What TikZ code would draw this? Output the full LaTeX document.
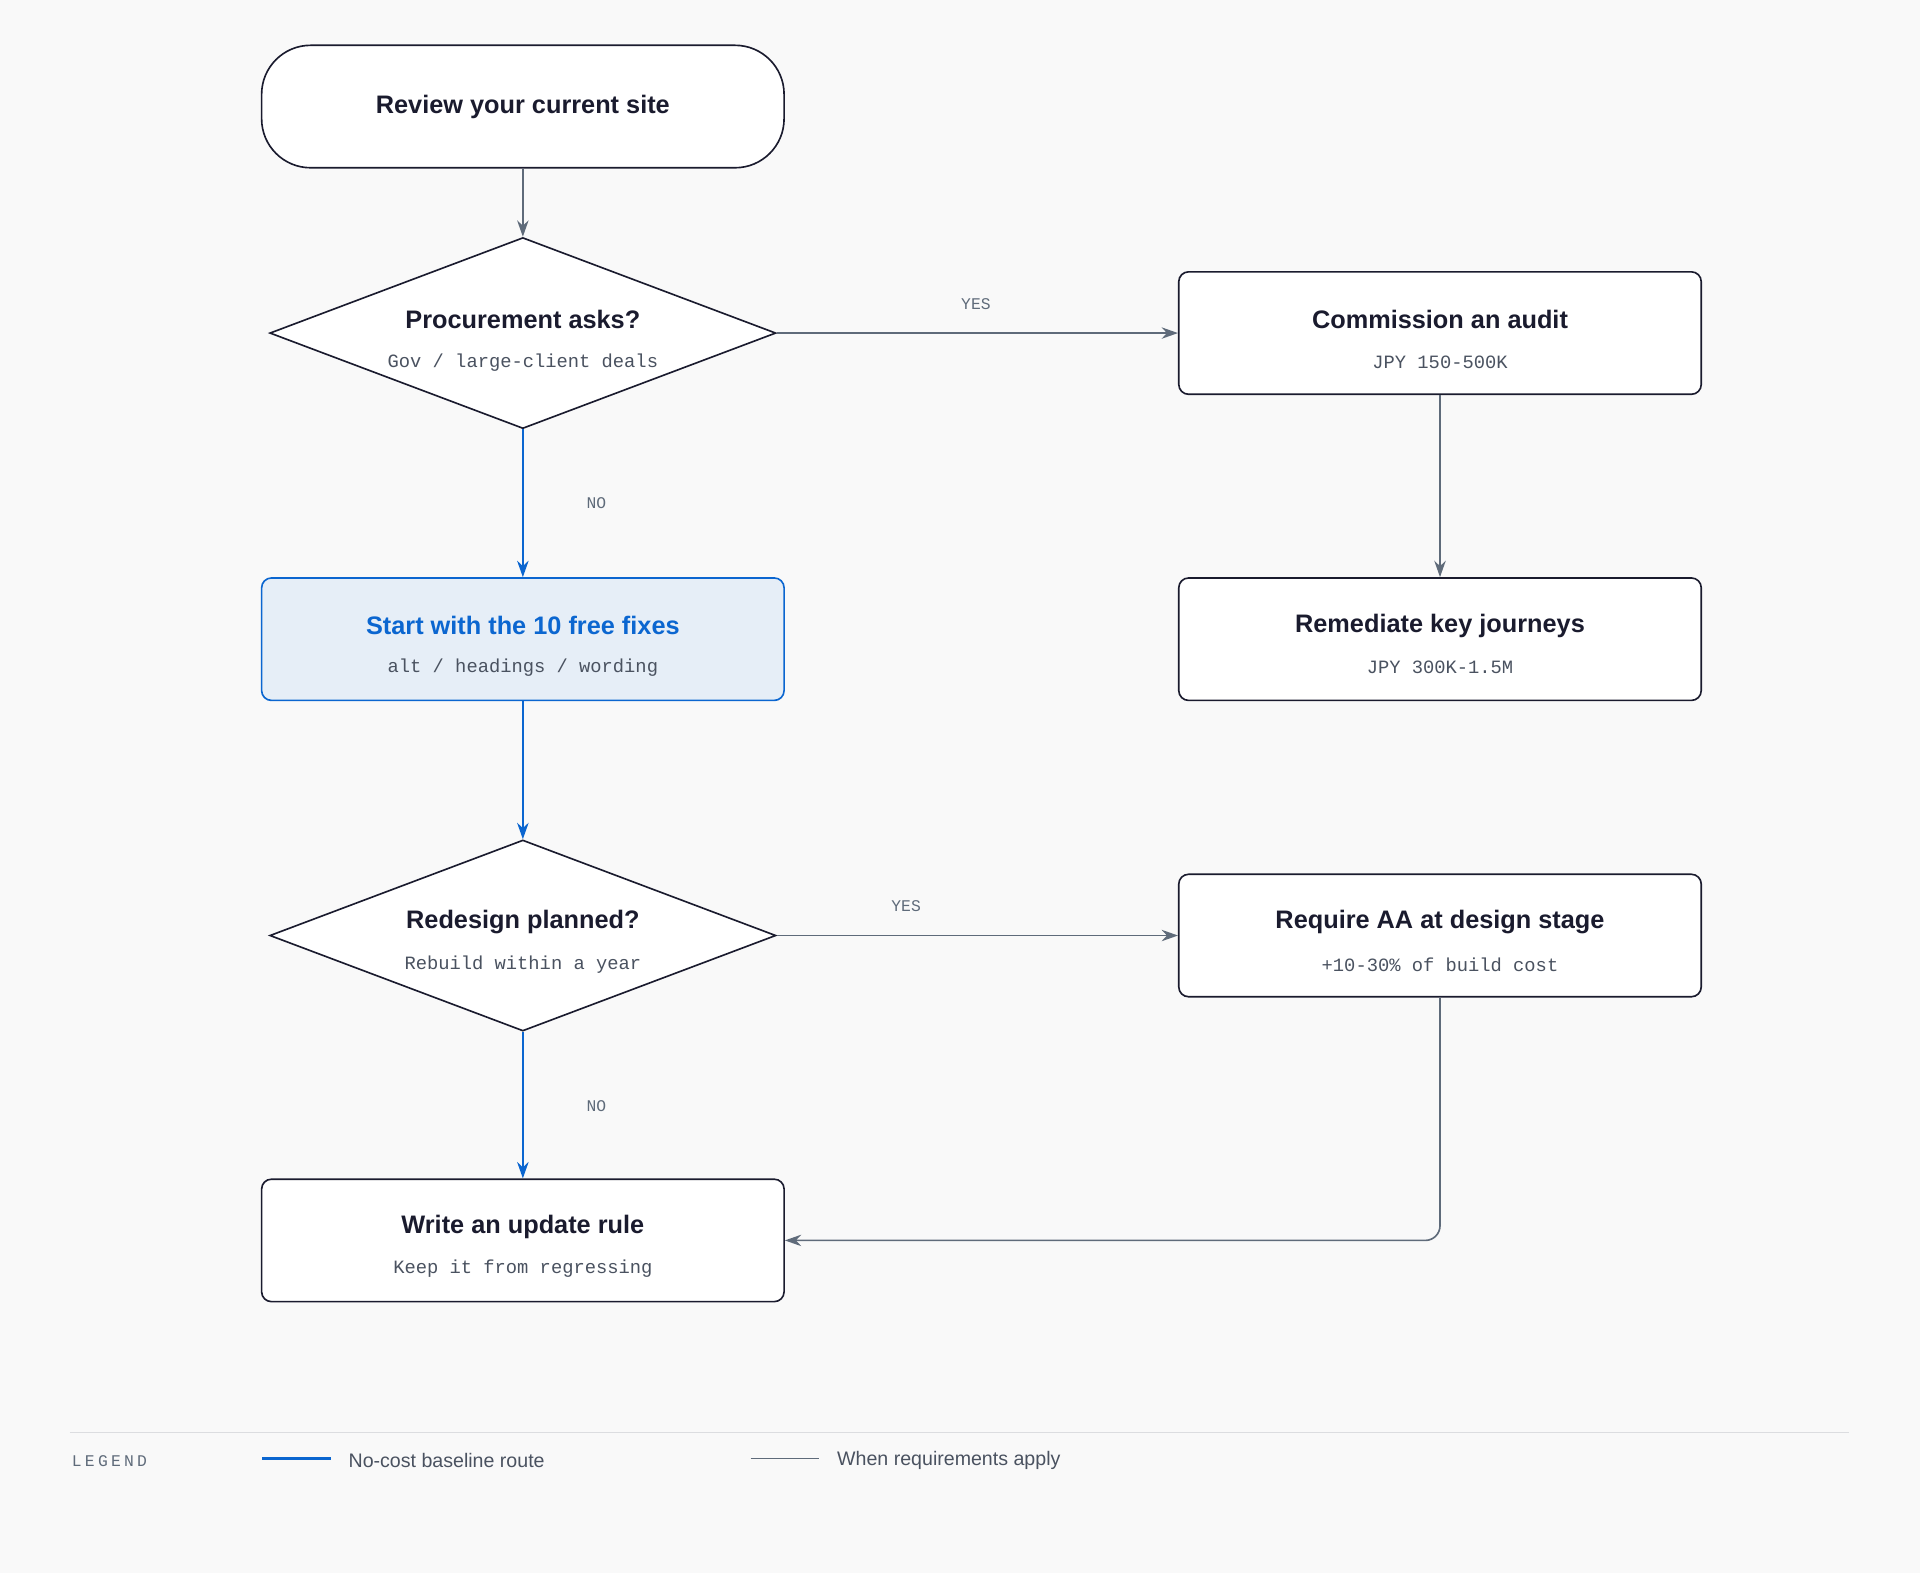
\documentclass[tikz,border=0pt]{standalone}
\usepackage{fontspec}
\setmainfont{Liberation Sans}
\setmonofont{Liberation Mono}
\usetikzlibrary{arrows.meta,shapes.geometric}
\definecolor{ink}{HTML}{1A1B2E}
\definecolor{slate}{HTML}{5F6B7A}
\definecolor{route}{HTML}{0B66D0}
\definecolor{paleblue}{HTML}{E6EEF7}
\definecolor{bg}{HTML}{F9F9F9}
\definecolor{rule}{HTML}{DCDDE0}
\definecolor{subtext}{HTML}{4A5260}
\tikzset{
arrowMe/.style={-{Stealth[length=10pt,width=7pt]}, line width=1pt},
}

\begin{document}
\begin{tikzpicture}[x=0.75pt,y=-0.75pt]
		\tikzset{box/.style = {draw=ink, line width=1pt, fill=white, rounded corners=6pt, minimum width=320pt, minimum height=75pt}}
		\tikzset{choice/.style = {draw=ink, line width=1pt, fill=white, diamond, minimum width=310pt, minimum height=117pt, inner sep=0pt}}
		\tikzset{title/.style = {font=\bfseries\fontsize{15.5}{18}\selectfont, text=ink}}
		\tikzset{sub/.style = {font=\ttfamily\fontsize{11.5}{14}\selectfont, text=subtext}}
		\tikzset{tag/.style = {font=\ttfamily\fontsize{10}{12}\selectfont, text=slate}}
		\tikzset{edge/.style = {arrowMe, draw=slate}}
		\tikzset{path/.style = {arrowMe, draw=route, line width=1.5pt}}

		\fill[bg] (0,0) rectangle (1568,1285);
		\useasboundingbox (0,0) rectangle (1568,1285);

		\node[box, rounded corners=30pt] (R) at (427,87) {};
		\node[title] (R_t) at (427,87) {Review your current site};

		\node[choice] (P) at (427,272) {};
		\node[title] (P_t) at (427,261) {Procurement asks?};
		\node[sub] (P_s) at (427,296) {Gov / large-client deals};

		\node[box] (A) at (1176,272) {};
		\node[title] (A_t) at (1176,261) {Commission an audit};
		\node[sub] (A_s) at (1176,296) {JPY 150-500K};

		\node[box] (J) at (1176,522) {};
		\node[title] (J_t) at (1176,511) {Remediate key journeys};
		\node[sub] (J_s) at (1176,545) {JPY 300K-1.5M};

		\node[box, fill=paleblue, draw=route] (F) at (427,522) {};
		\node[title, text=route] (F_t) at (427,511) {Start with the 10 free fixes};
		\node[sub] (F_s) at (427,545) {alt / headings / wording};

		\node[choice] (D) at (427,764) {};
		\node[title] (D_t) at (427,753) {Redesign planned?};
		\node[sub] (D_s) at (427,788) {Rebuild within a year};

		\node[box] (S) at (1176,764) {};
		\node[title] (S_t) at (1176,753) {Require AA at design stage};
		\node[sub] (S_s) at (1176,788) {+10-30\% of build cost};

		\node[box] (U) at (427,1013) {};
		\node[title] (U_t) at (427,1002) {Write an update rule};
		\node[sub] (U_s) at (427,1036) {Keep it from regressing};

		\draw[edge] (R) to (P);
		\draw[edge] (P) to (A);
		\draw[edge] (A) to (J);
		\draw[path] (P) to (F);
		\draw[path] (F) to (D);
		\draw[edge] (D) to (S);
		\draw[path] (D) to (U);
		\draw[edge, rounded corners=9pt] (S) |- (U);

		\node[tag] (y1) at (797,248) {YES};
		\node[tag] (y2) at (740,740) {YES};
		\node[tag] (n1) at (487,411) {NO};
		\node[tag] (n2) at (487,903) {NO};

		% legend
		\draw[rule, line width=1pt] (57,1170) -- (1510,1170);
		\node[tag, anchor=west, font=\ttfamily\fontsize{10}{12}\selectfont\addfontfeatures{LetterSpace=20}] (L) at (54,1193) {LEGEND};
		\coordinate (b1) at (214,1191);
		\coordinate (b2) at (270,1191);
		\draw[route, line width=1.5pt] (b1) -- (b2);
		\node[anchor=west, text=subtext, font=\fontsize{12}{14}\selectfont] (Lb) at (280,1193) {No-cost baseline route};
		\coordinate (g1) at (613,1191);
		\coordinate (g2) at (669,1191);
		\draw[slate, line width=1pt] (g1) -- (g2);
		\node[anchor=west, text=subtext, font=\fontsize{12}{14}\selectfont] (Lg) at (679,1193) {When requirements apply};
	\end{tikzpicture}
\end{document}
